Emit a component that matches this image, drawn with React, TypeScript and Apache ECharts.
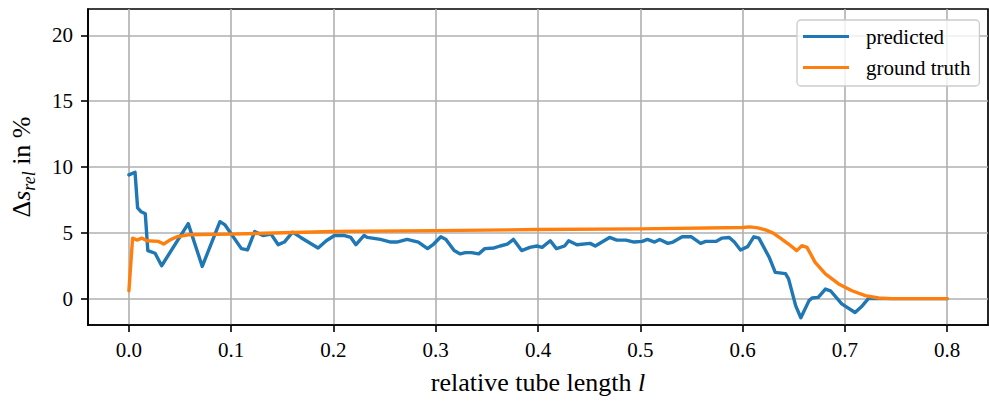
import React, { useEffect, useRef } from "react";
import * as echarts from "echarts";

const xTicks = [0, 0.1, 0.2, 0.3, 0.4, 0.5, 0.6, 0.7, 0.8];
const yTicks = [0, 5, 10, 15, 20];

const predL = [
  0, 0.006, 0.0085, 0.012, 0.016, 0.0185, 0.0256, 0.032, 0.058, 0.0717, 0.089, 0.094, 0.11, 0.116,
  0.123, 0.131, 0.139, 0.146, 0.152, 0.16, 0.168, 0.185, 0.193, 0.201, 0.21, 0.217, 0.222, 0.23,
  0.233, 0.246, 0.256, 0.262, 0.272, 0.283, 0.292, 0.298, 0.305, 0.31, 0.318, 0.324, 0.329, 0.335,
  0.342, 0.348, 0.357, 0.363, 0.37, 0.376, 0.384, 0.392, 0.399, 0.404, 0.412, 0.418, 0.426, 0.43,
  0.438, 0.451, 0.456, 0.47, 0.477, 0.486, 0.494, 0.502, 0.507, 0.514, 0.519, 0.527, 0.532, 0.541,
  0.55, 0.559, 0.564, 0.574, 0.58, 0.587, 0.592, 0.598, 0.605, 0.611, 0.616, 0.626, 0.632, 0.642,
  0.645, 0.652, 0.657, 0.665, 0.668, 0.674, 0.681, 0.686, 0.697, 0.71, 0.717, 0.723, 0.74, 0.8,
];
const predS = [
  9.4, 9.6, 6.9, 6.6, 6.45, 3.65, 3.45, 2.5, 5.7, 2.45, 5.85, 5.6, 3.8, 3.7,
  5.1, 4.8, 4.9, 4.1, 4.3, 5.05, 4.65, 3.85, 4.4, 4.8, 4.8, 4.65, 4.1, 4.8,
  4.65, 4.5, 4.3, 4.3, 4.5, 4.3, 3.8, 4.15, 4.7, 4.5, 3.65, 3.4, 3.5, 3.5,
  3.4, 3.8, 3.85, 4.0, 4.15, 4.5, 3.65, 3.9, 4.0, 3.9, 4.4, 3.8, 4.0, 4.4,
  4.1, 4.2, 4.0, 4.65, 4.45, 4.45, 4.3, 4.35, 4.5, 4.3, 4.5, 4.2, 4.3, 4.7,
  4.7, 4.2, 4.35, 4.35, 4.6, 4.65, 4.3, 3.7, 3.95, 4.7, 4.6, 3.15, 2.0, 1.9,
  1.5, -0.55, -1.45, -0.15, 0.05, 0.1, 0.73, 0.6, -0.4, -1.05, -0.55, 0, 0, 0,
];

const truthL = [
  0, 0.0036, 0.0078, 0.0126, 0.0175, 0.029, 0.034, 0.04, 0.047, 0.058, 0.1, 0.2, 0.3, 0.4, 0.5,
  0.6, 0.607, 0.615, 0.6225, 0.63, 0.636, 0.645, 0.653, 0.658, 0.663, 0.671, 0.681, 0.694, 0.707,
  0.72, 0.733, 0.746, 0.8,
];
const truthS = [
  0.6, 4.6, 4.45, 4.6, 4.4, 4.35, 4.15, 4.45, 4.7, 4.85, 4.9, 5.1, 5.17, 5.25, 5.3,
  5.4, 5.45, 5.38, 5.22, 4.98, 4.66, 4.15, 3.65, 4.03, 3.9, 2.76, 1.88, 1.12, 0.6,
  0.23, 0.05, 0, 0,
];

const FONT = "Liberation Serif";
const lbl = { fontFamily: FONT, fontSize: 21, color: "#000" };

export default function App() {
  const ref = useRef<HTMLDivElement>(null);
  useEffect(() => {
    document.body.style.margin = "0";
    if (!ref.current) return;
    const chart = echarts.init(ref.current, undefined, { renderer: "svg" });
    const pred = predL.map((l, i) => [l, predS[i]]);
    const truth = truthL.map((l, i) => [l, truthS[i]]);
    const tickStyle = { show: true, length: 7, inside: false, lineStyle: { color: "#000", width: 1.6 } };
    chart.setOption({
      animation: false,
      backgroundColor: "#fff",
      textStyle: { fontFamily: FONT },
      grid: {
        left: 87,
        right: 1,
        top: 9,
        bottom: 78,
        show: true,
        borderColor: "#000",
        borderWidth: 1.7,
        backgroundColor: "transparent",
      },
      legend: {
        orient: "vertical",
        left: 797,
        top: 20,
        padding: [6, 9, 8, 6],
        itemGap: 10,
        itemWidth: 46,
        itemHeight: 3,
        icon: "rect",
        backgroundColor: "rgba(255,255,255,0.8)",
        borderColor: "#cccccc",
        borderWidth: 1.3,
        borderRadius: 4,
        formatter: (name: string) => "{a|" + name + "}",
        textStyle: { ...lbl, padding: [0, 0, 0, 12], rich: { a: { ...lbl } } },
        data: ["predicted", "ground truth"],
      },
      xAxis: {
        type: "value",
        min: -0.04,
        max: 0.84,
        name: "{n|relative tube length }{i|l}",
        nameLocation: "middle",
        nameGap: 44,
        nameTextStyle: {
          fontFamily: FONT,
          rich: {
            n: { fontFamily: FONT, fontSize: 26, color: "#000" },
            i: { fontFamily: FONT, fontSize: 26, color: "#000", fontStyle: "italic" },
          },
        },
        axisLine: { show: true, onZero: false, lineStyle: { color: "#000", width: 1.7 } },
        axisTick: { ...tickStyle, customValues: xTicks },
        axisLabel: {
          customValues: xTicks,
          margin: 14,
          ...lbl,
          rich: { a: { ...lbl } },
          formatter: (v: number) => "{a|" + v.toFixed(1) + "}",
        },
        splitLine: { show: true, lineStyle: { color: "#b0b0b0", width: 1.6 } },
      },
      yAxis: {
        type: "value",
        min: -2,
        max: 22,
        name: "{n|Δ}{i|s}{sub|rel}{n| in %}",
        nameLocation: "middle",
        nameGap: 50,
        nameRotate: 90,
        nameTextStyle: {
          fontFamily: FONT,
          rich: {
            n: { fontFamily: FONT, fontSize: 26, color: "#000", lineHeight: 34 },
            i: { fontFamily: FONT, fontSize: 26, color: "#000", fontStyle: "italic", lineHeight: 34 },
            sub: {
              fontFamily: FONT,
              fontSize: 18,
              color: "#000",
              fontStyle: "italic",
              lineHeight: 18,
              verticalAlign: "bottom",
            },
          },
        },
        axisLine: { show: true, onZero: false, lineStyle: { color: "#000", width: 1.7 } },
        axisTick: { ...tickStyle, customValues: yTicks },
        axisLabel: {
          customValues: yTicks,
          margin: 15,
          ...lbl,
          rich: { a: { ...lbl } },
          formatter: (v: number) => "{a|" + String(v) + "}",
        },
        splitLine: { show: true, lineStyle: { color: "#b0b0b0", width: 1.6 } },
      },
      series: [
        {
          name: "predicted",
          type: "line",
          data: pred,
          symbol: "none",
          color: "#1f77b4",
          lineStyle: { width: 3.4, color: "#1f77b4", join: "round", cap: "round" },
        },
        {
          name: "ground truth",
          type: "line",
          data: truth,
          symbol: "none",
          color: "#ff7f0e",
          lineStyle: { width: 3.4, color: "#ff7f0e", join: "round", cap: "round" },
        },
      ],
    });
    return () => chart.dispose();
  }, []);
  return <div ref={ref} style={{ width: 989, height: 403 }} />;
}
